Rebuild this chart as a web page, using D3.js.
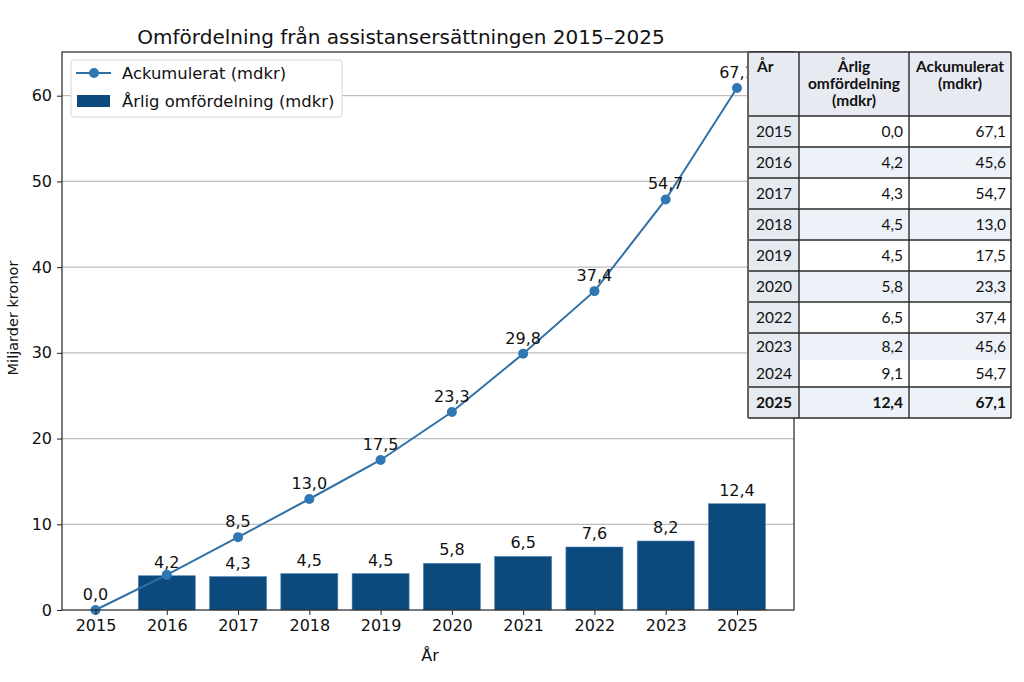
<!DOCTYPE html>
<html>
<head>
<meta charset="utf-8">
<script src="https://cdn.jsdelivr.net/npm/d3@7"></script>
<style>
  body { margin: 0; background: #fff; }
  svg text { font-family: "DejaVu Sans", sans-serif; fill: #111; }
  .tbl text { font-family: Lato, "Open Sans", sans-serif; }
</style>
</head>
<body>
<div id="chart"></div>
<script>
// x-axis categories (2024 is missing in the original chart)
var years = ["2015", "2016", "2017", "2018", "2019", "2020", "2021", "2022", "2023", "2025"];
// bar heights as drawn, and the labels printed above them
var annual = [0, 4.0, 3.9, 4.25, 4.25, 5.45, 6.25, 7.35, 8.05, 12.4];
var annualLabels = ["0,0", "4,2", "4,3", "4,5", "4,5", "5,8", "6,5", "7,6", "8,2", "12,4"];
// line points as drawn, and their printed labels
var cumulative = [0, 4.1, 8.5, 12.95, 17.5, 23.1, 29.9, 37.2, 47.9, 60.9];
var cumulativeLabels = ["0,0", "4,2", "8,5", "13,0", "17,5", "23,3", "29,8", "37,4", "54,7", "67,1"];
var yTicks = [0, 10, 20, 30, 40, 50, 60];

// side table
var tableYears = ["2015", "2016", "2017", "2018", "2019", "2020", "2022", "2023", "2024", "2025"];
var tableAnnual = ["0,0", "4,2", "4,3", "4,5", "4,5", "5,8", "6,5", "8,2", "9,1", "12,4"];
var tableCum = ["67,1", "45,6", "54,7", "13,0", "17,5", "23,3", "37,4", "45,6", "54,7", "67,1"];

function init(){
    var w = 1024, h = 682;
    var left = 62, right = 794, top = 52, bottom = 610;
    var barColor = "#0c4a7e";
    var lineColor = "#2f70a6";

    var svg = d3.select("#chart").append("svg")
      .attr("width", w).attr("height", h);

    var xScale = d3.scaleLinear()
      .domain([-0.47, 9.8])
      .range([left, right]);

    var yScale = d3.scaleLinear()
      .domain([0, 65.1])
      .range([bottom, top]);

    var barW = xScale(0.8) - xScale(0);

    // grid
    svg.append("g").selectAll("line")
      .data(yTicks.filter(function(d){ return d > 0; }))
      .enter().append("line")
      .attr("x1", left).attr("x2", right)
      .attr("y1", function(d){ return yScale(d); })
      .attr("y2", function(d){ return yScale(d); })
      .attr("stroke", "#bdbdbd").attr("stroke-width", 1.2);

    // bars
    svg.append("g").selectAll("rect")
      .data(annual)
      .enter().append("rect")
      .attr("x", function(d, i){ return xScale(i) - barW / 2; })
      .attr("y", function(d){ return yScale(d); })
      .attr("width", barW)
      .attr("height", function(d){ return bottom - yScale(d); })
      .attr("fill", barColor)
      .attr("stroke", "#4f86b8").attr("stroke-width", 0.6);

    svg.append("g").selectAll("text")
      .data(annual)
      .enter().append("text")
      .attr("x", function(d, i){ return xScale(i); })
      .attr("y", function(d){ return yScale(d) - 8; })
      .attr("text-anchor", "middle")
      .attr("font-size", 16)
      .text(function(d, i){ return i === 0 ? "" : annualLabels[i]; });

    // line
    var line = d3.line()
      .x(function(d, i){ return xScale(i); })
      .y(function(d){ return yScale(d); });

    svg.append("path")
      .datum(cumulative)
      .attr("d", line)
      .attr("fill", "none")
      .attr("stroke", lineColor)
      .attr("stroke-width", 2);

    svg.append("g").selectAll("circle")
      .data(cumulative)
      .enter().append("circle")
      .attr("cx", function(d, i){ return xScale(i); })
      .attr("cy", function(d){ return yScale(d); })
      .attr("r", 5)
      .attr("fill", "#2f78b4");

    svg.append("g").selectAll("text")
      .data(cumulative)
      .enter().append("text")
      .attr("x", function(d, i){ return xScale(i); })
      .attr("y", function(d){ return yScale(d) - 10; })
      .attr("text-anchor", "middle")
      .attr("font-size", 16)
      .text(function(d, i){ return i === 1 ? "" : cumulativeLabels[i]; });

    // frame
    svg.append("rect")
      .attr("x", left).attr("y", top)
      .attr("width", right - left).attr("height", bottom - top)
      .attr("fill", "none").attr("stroke", "#222").attr("stroke-width", 1.2);

    // axes
    var xAxis = d3.axisBottom(xScale)
      .tickValues(d3.range(years.length))
      .tickFormat(function(i){ return years[i]; })
      .tickSize(5).tickPadding(5);
    var yAxis = d3.axisLeft(yScale)
      .tickValues(yTicks).tickSize(5).tickPadding(5);

    var gx = svg.append("g").attr("transform", "translate(0," + bottom + ")").call(xAxis);
    var gy = svg.append("g").attr("transform", "translate(" + left + ",0)").call(yAxis);
    [gx, gy].forEach(function(g){
        g.select(".domain").remove();
        g.selectAll("line").attr("stroke", "#222");
        g.selectAll("text").attr("font-size", 16).attr("fill", "#111")
          .style("font-family", "DejaVu Sans");
    });

    svg.append("text")
      .attr("x", 430).attr("y", 661)
      .attr("text-anchor", "middle").attr("font-size", 16)
      .text("År");

    svg.append("text")
      .attr("transform", "translate(18,318) rotate(-90)")
      .attr("text-anchor", "middle").attr("font-size", 14.5)
      .text("Miljarder kronor");

    svg.append("text")
      .attr("x", 401).attr("y", 44)
      .attr("text-anchor", "middle").attr("font-size", 20)
      .text("Omfördelning från assistansersättningen 2015–2025");

    // legend
    var lg = svg.append("g");
    lg.append("rect").attr("x", 71).attr("y", 60).attr("width", 271).attr("height", 57)
      .attr("rx", 3).attr("fill", "#fff").attr("stroke", "#d6d6d6");
    lg.append("line").attr("x1", 76).attr("x2", 111).attr("y1", 73).attr("y2", 73)
      .attr("stroke", lineColor).attr("stroke-width", 2);
    lg.append("circle").attr("cx", 94).attr("cy", 73).attr("r", 5).attr("fill", "#2f78b4");
    lg.append("rect").attr("x", 77).attr("y", 95).attr("width", 33).attr("height", 12)
      .attr("fill", barColor);
    lg.append("text").attr("x", 122).attr("y", 79).attr("font-size", 16.4).text("Ackumulerat (mdkr)");
    lg.append("text").attr("x", 122).attr("y", 107).attr("font-size", 16.4).text("Årlig omfördelning (mdkr)");

    drawTable(svg);
}

function drawTable(svg){
    var cols = [748, 799, 909, 1011];
    var headTop = 52, headBottom = 116, rowH = 31, halfH = 27;
    var t = svg.append("g").attr("class", "tbl");

    // row layout: 2023 and 2024 share one bordered block
    var rows = [];
    var y = headBottom;
    tableYears.forEach(function(yr, i){
        var hh = (yr === "2023" || yr === "2024") ? halfH : rowH;
        rows.push({ y: y, h: hh, i: i, joined: yr === "2024" });
        y += hh;
    });
    var tableBottom = y;

    t.append("rect").attr("x", cols[0]).attr("y", headTop)
      .attr("width", cols[3] - cols[0]).attr("height", headBottom - headTop)
      .attr("fill", "#e7ebf1");

    rows.forEach(function(r){
        t.append("rect").attr("x", cols[0]).attr("y", r.y)
          .attr("width", cols[1] - cols[0]).attr("height", r.h).attr("fill", "#e5eaf1");
        t.append("rect").attr("x", cols[1]).attr("y", r.y)
          .attr("width", cols[3] - cols[1]).attr("height", r.h)
          .attr("fill", r.i % 2 === 1 ? "#edf2f8" : "#ffffff");
    });

    // grid lines
    var hl = [headTop, headBottom].concat(rows.filter(function(r){ return !r.joined; })
      .map(function(r){ return r.y; }).slice(1)).concat([tableBottom]);
    t.selectAll("line.h").data(hl).enter().append("line")
      .attr("x1", cols[0]).attr("x2", cols[3])
      .attr("y1", function(d){ return d; }).attr("y2", function(d){ return d; })
      .attr("stroke", "#2a2a2a").attr("stroke-width", 1.4);
    t.selectAll("line.v").data(cols).enter().append("line")
      .attr("x1", function(d){ return d; }).attr("x2", function(d){ return d; })
      .attr("y1", headTop).attr("y2", tableBottom)
      .attr("stroke", function(d, i){ return i === 0 ? "#666" : "#2a2a2a"; })
      .attr("stroke-width", function(d, i){ return i === 0 ? 2 : 1.4; });

    // header
    var head = [
      { x: 757, anchor: "start", lines: ["År"] },
      { x: 854, anchor: "middle", lines: ["Årlig", "omfördelning", "(mdkr)"] },
      { x: 960, anchor: "middle", lines: ["Ackumulerat", "(mdkr)"] }
    ];
    head.forEach(function(hd){
        hd.lines.forEach(function(s, k){
            t.append("text").attr("x", hd.x).attr("y", 72 + k * 17)
              .attr("text-anchor", hd.anchor).attr("font-size", 15.5)
              .attr("font-weight", "bold").text(s);
        });
    });

    rows.forEach(function(r){
        var last = r.i === tableYears.length - 1;
        var by = r.y + r.h / 2 + 5.5;
        var fw = last ? "bold" : "normal";
        t.append("text").attr("x", 756).attr("y", by).attr("font-size", 15.5)
          .attr("font-weight", fw).text(tableYears[r.i]);
        t.append("text").attr("x", 903).attr("y", by).attr("font-size", 15.5)
          .attr("text-anchor", "end").attr("font-weight", fw).text(tableAnnual[r.i]);
        t.append("text").attr("x", 1006).attr("y", by).attr("font-size", 15.5)
          .attr("text-anchor", "end").attr("font-weight", fw).text(tableCum[r.i]);
    });
}

window.onload = init;
</script>
</body>
</html>
